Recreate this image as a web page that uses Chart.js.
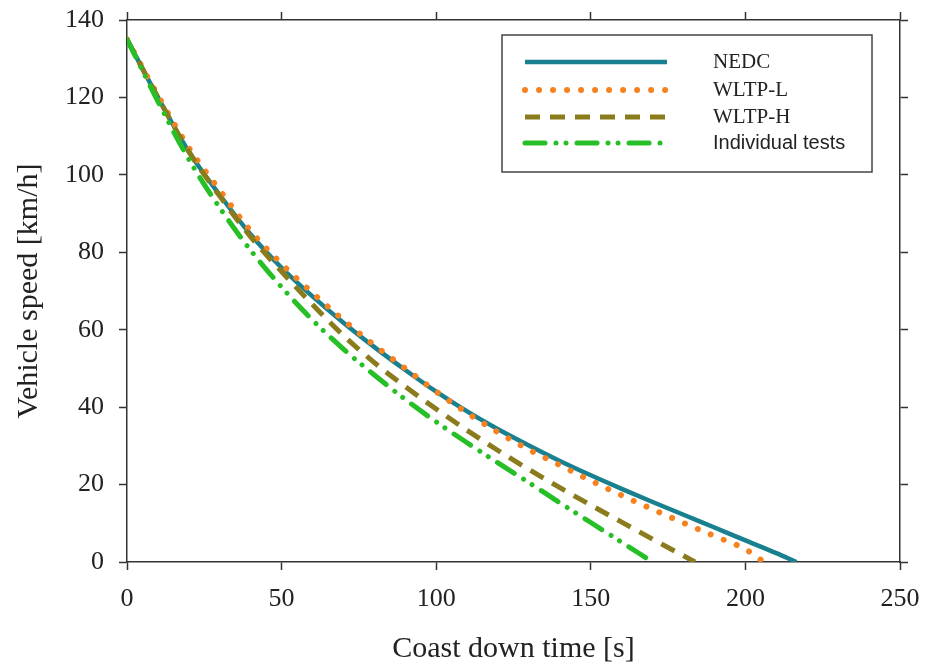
<!DOCTYPE html>
<html>
<head>
<meta charset="utf-8">
<script src="https://cdn.jsdelivr.net/npm/chart.js@4.4.1/dist/chart.umd.min.js"></script>
<style>
  html, body { margin: 0; padding: 0; background: #fff; }
  #wrap { width: 926px; height: 672px; }
</style>
</head>
<body>
<div id="wrap"><canvas id="chart" width="926" height="672"></canvas></div>
<script>
// coast down curves, speed [km/h] read every 10 s, null once the car has stopped
const timeSteps = [0, 10, 20, 30, 40, 50, 60, 70, 80, 90, 100, 110, 120, 130, 140, 150, 160, 170, 180, 190, 200, 210];
const nedcSpeed = [135, 120, 106, 94.8, 84.6, 76, 68.6, 61.8, 55.5, 49.6, 44, 38.9, 34.3, 30.1, 26.1, 22.4, 18.9, 15.5, 12.2, 8.9, 5.6, 2.3];
const wltpLSpeed = [135, 120.5, 107, 96, 85.5, 77, 69.5, 62.5, 56, 50, 44, 38.5, 33.5, 29, 25, 21, 17.2, 13.6, 10.1, 6.7, 3.3, null];
const wltpHSpeed = [135, 120, 106, 94.5, 84, 75, 66.5, 58.5, 51.5, 45.3, 39.5, 34, 28.8, 23.9, 19.2, 14.7, 10.3, 5.9, 1.6, null, null, null];
const individualSpeed = [135, 119, 104, 91.5, 80.5, 71, 62.5, 55, 48.3, 42, 36.2, 30.8, 25.6, 20.5, 15.3, 10.2, 5.1, null, null, null, null, null];
// time where each curve reaches 0 km/h
const stopTimes = [216.5, 206, 183.7, 170];
const seriesNames = ['NEDC', 'WLTP-L', 'WLTP-H', 'Individual tests'];

const xTicks = [0, 50, 100, 150, 200, 250];
const yTicks = [0, 20, 40, 60, 80, 100, 120, 140];

function toPoints(speeds, stopTime) {
    const pts = [];
    speeds.forEach((v, i) => {
        if (v !== null) pts.push({ x: timeSteps[i], y: v });
    });
    pts.push({ x: stopTime, y: 0 });
    return pts;
}

const styles = [
    { color: '#18808e', width: 4.5, dash: [], cap: 'butt' },
    { color: '#f5821f', width: 6, dash: [0.01, 14], cap: 'round' },
    { color: '#8a7c1c', width: 5, dash: [15, 10], cap: 'butt' },
    { color: '#26c026', width: 5, dash: [20, 11, 0.01, 10, 0.01, 11], cap: 'round' }
];
const legendFonts = [
    '21px "Liberation Serif"', '21px "Liberation Serif"', '21px "Liberation Serif"', '20px "Liberation Sans"'
];

const allSpeeds = [nedcSpeed, wltpLSpeed, wltpHSpeed, individualSpeed];
const datasets = allSpeeds.map((sp, i) => ({
    label: seriesNames[i],
    data: toPoints(sp, stopTimes[i]),
    borderColor: styles[i].color,
    borderWidth: styles[i].width,
    borderDash: styles[i].dash,
    borderCapStyle: styles[i].cap,
    borderJoinStyle: 'round',
    pointRadius: 0,
    cubicInterpolationMode: 'monotone',
    fill: false,
    order: 3 - i
}));

// legend box drawn by hand, since the labels mix fonts
const boxLegend = {
    id: 'boxLegend',
    afterDraw(chart) {
        const c = chart.ctx;
        c.save();
        c.strokeStyle = '#444';
        c.lineWidth = 1.5;
        c.strokeRect(502, 35, 370, 137);
        const rows = [62, 90, 117, 143];
        rows.forEach((y, i) => {
            const s = styles[i];
            c.beginPath();
            c.strokeStyle = s.color;
            c.lineWidth = s.width;
            c.lineCap = s.cap;
            c.setLineDash(s.dash);
            c.moveTo(525, y);
            c.lineTo(667, y);
            c.stroke();
            c.setLineDash([]);
            c.fillStyle = '#222';
            c.font = legendFonts[i];
            c.textBaseline = 'middle';
            c.textAlign = 'left';
            c.fillText(seriesNames[i], 713, y);
        });
        c.restore();
    }
};

const axisColor = '#333';
const tickFont = { family: 'Liberation Serif', size: 26 };
const titleFont = { family: 'Liberation Serif', size: 30 };

function gridOpts() {
    return { drawOnChartArea: false, drawTicks: true, tickLength: 8, color: axisColor, tickWidth: 1.5 };
}

// fixed box sizes so the plot area lands where the original has it
function fixSize(w, h) {
    return s => {
        if (w !== null) s.width = w;
        if (h !== null) s.height = h;
        s.paddingLeft = 0; s.paddingRight = 0; s.paddingTop = 0; s.paddingBottom = 0;
    };
}

new Chart(document.getElementById('chart').getContext('2d'), {
    type: 'line',
    data: { datasets: datasets },
    plugins: [boxLegend],
    options: {
        responsive: false,
        animation: false,
        layout: { padding: 0 },
        plugins: { legend: { display: false }, tooltip: { enabled: false } },
        scales: {
            x: {
                type: 'linear', position: 'bottom', min: 0, max: 250,
                afterFit: fixSize(null, 110),
                afterBuildTicks: s => { s.ticks = xTicks.map(v => ({ value: v })); },
                ticks: { font: tickFont, color: '#222', padding: 14, maxRotation: 0 },
                grid: gridOpts(),
                border: { display: true, color: axisColor, width: 1.5 },
                title: { display: true, text: 'Coast down time [s]', font: titleFont, color: '#222', padding: { top: 0, bottom: 5 } }
            },
            x2: {
                type: 'linear', position: 'top', min: 0, max: 250,
                afterFit: fixSize(null, 20),
                afterBuildTicks: s => { s.ticks = xTicks.map(v => ({ value: v })); },
                ticks: { display: false },
                grid: gridOpts(),
                border: { display: true, color: axisColor, width: 1.5 }
            },
            y: {
                type: 'linear', position: 'left', min: 0, max: 140,
                afterFit: fixSize(127, null),
                afterBuildTicks: s => { s.ticks = yTicks.map(v => ({ value: v })); },
                ticks: { font: tickFont, color: '#222', padding: 15 },
                grid: gridOpts(),
                border: { display: true, color: axisColor, width: 1.5 },
                title: { display: true, text: 'Vehicle speed [km/h]', font: titleFont, color: '#222', padding: { top: 11, bottom: 0 } }
            },
            y2: {
                type: 'linear', position: 'right', min: 0, max: 140,
                afterFit: fixSize(26, null),
                afterBuildTicks: s => { s.ticks = yTicks.map(v => ({ value: v })); },
                ticks: { display: false },
                grid: gridOpts(),
                border: { display: true, color: axisColor, width: 1.5 }
            }
        }
    }
});
</script>
</body>
</html>
